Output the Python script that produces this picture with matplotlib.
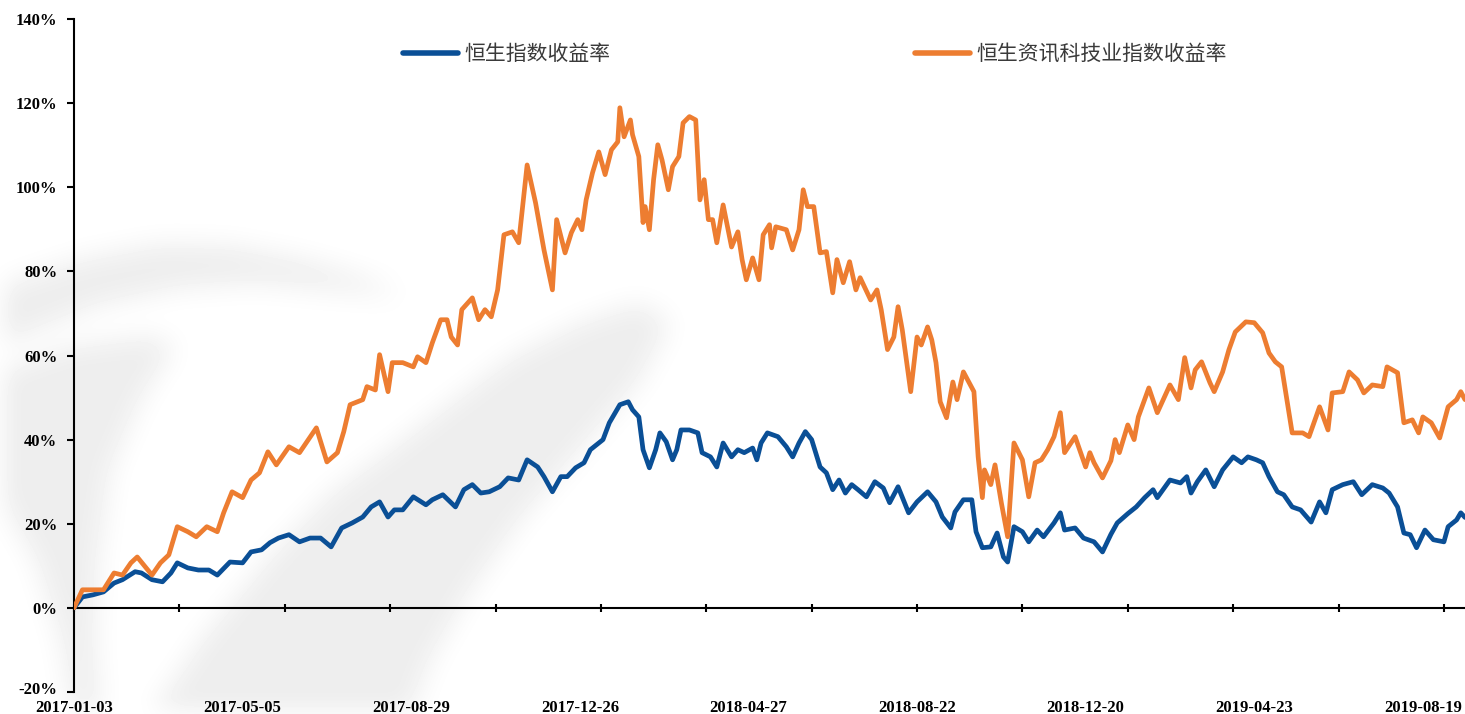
import numpy as np
import matplotlib.pyplot as plt
import matplotlib.transforms as mtransforms
from matplotlib.path import Path

# trading-day index (0 = 2017-01-03) and cumulative return in %
hsi_day = [0, 4, 9, 14, 19, 23, 29, 32, 37, 42, 46, 49, 54, 59, 64, 68, 74, 80, 84, 89,
           93, 97, 102, 107, 112, 117, 122, 127, 132, 137, 141, 145, 149, 152, 156, 161, 167, 170, 175, 181,
           185, 189, 193, 197, 202, 206, 211, 215, 220, 223, 227, 231, 234, 238, 242, 245, 251, 254, 259, 263,
           265, 268, 270, 273, 276, 278, 281, 284, 286, 288, 292, 296, 298, 302, 305, 308, 312, 315, 318, 322,
           324, 326, 329, 334, 338, 341, 344, 347, 350, 354, 357, 360, 363, 366, 369, 372, 376, 380, 384, 387,
           391, 396, 400, 405, 409, 412, 416, 418, 422, 426, 428, 431, 435, 438, 441, 443, 446, 450, 453, 457,
           460, 465, 468, 470, 475, 479, 484, 488, 492, 495, 500, 504, 508, 512, 514, 520, 525, 528, 530, 533,
           537, 541, 545, 550, 554, 557, 561, 564, 567, 571, 574, 578, 582, 587, 591, 594, 597, 602, 607, 611,
           616, 621, 624, 628, 631, 634, 637, 641, 645, 650, 652, 656, 658, 660]
hsi_ret = [0, 2.6, 3.1, 3.8, 5.9, 6.7, 8.6, 8.3, 6.7, 6.2, 8.3, 10.7, 9.5, 9.0, 9.0, 7.8, 10.9, 10.7, 13.3, 13.8,
           15.5, 16.6, 17.4, 15.7, 16.6, 16.6, 14.5, 19.0, 20.2, 21.6, 24.0, 25.2, 21.6, 23.3, 23.3, 26.4, 24.5, 25.7, 26.9, 24.0,
           28.1, 29.3, 27.3, 27.6, 28.8, 30.9, 30.4, 35.2, 33.5, 31.2, 27.6, 31.2, 31.2, 33.3, 34.5, 37.6, 40.0, 44.0, 48.3, 49.0,
           47.1, 45.4, 37.6, 33.3, 37.6, 41.6, 39.5, 35.2, 37.6, 42.3, 42.3, 41.6, 36.9, 35.9, 33.5, 39.2, 35.9, 37.6, 36.9, 38.0,
           35.2, 39.2, 41.6, 40.7, 38.3, 35.9, 39.2, 41.9, 40.0, 33.5, 32.1, 28.1, 30.4, 27.3, 29.3, 28.1, 26.4, 30.0, 28.5, 25.0,
           28.8, 22.6, 25.2, 27.6, 25.2, 21.6, 19.0, 22.8, 25.7, 25.7, 18.1, 14.3, 14.5, 17.8, 12.1, 10.9, 19.3, 18.1, 15.7, 18.5,
           16.9, 20.2, 22.6, 18.5, 19.0, 16.6, 15.7, 13.3, 17.5, 20.2, 22.4, 24.0, 26.2, 28.1, 26.2, 30.4, 29.7, 31.2, 27.3, 30.0,
           32.8, 28.8, 32.8, 35.9, 34.5, 35.9, 35.2, 34.5, 31.2, 27.6, 26.9, 24.0, 23.3, 20.4, 25.2, 22.6, 28.1, 29.3, 30.0, 26.9,
           29.3, 28.5, 27.3, 24.0, 17.8, 17.4, 14.3, 18.5, 16.2, 15.7, 19.3, 20.9, 22.6, 21.5]

tech_day = [0, 4, 8, 14, 19, 23, 27, 30, 37, 41, 45, 49, 54, 58, 63, 68, 71, 75, 80, 84,
            88, 92, 96, 102, 107, 115, 120, 125, 128, 131, 137, 139, 143, 145, 149, 151, 156, 161, 163, 167,
            170, 174, 177, 179, 182, 184, 189, 192, 195, 198, 201, 204, 208, 211, 215, 219, 223, 227, 229, 233,
            236, 239, 241, 243, 246, 249, 252, 255, 258, 259, 261, 264, 265, 268, 270, 271, 273, 275, 277, 279,
            282, 284, 287, 289, 292, 295, 297, 299, 301, 303, 305, 308, 312, 315, 317, 319, 322, 325, 327, 330,
            331, 333, 338, 341, 344, 346, 348, 351, 354, 357, 360, 362, 365, 368, 371, 373, 378, 381, 383, 386,
            389, 391, 393, 397, 400, 402, 405, 407, 409, 411, 414, 417, 419, 422, 427, 429, 431, 432, 435, 437,
            440, 443, 446, 450, 453, 456, 459, 462, 465, 468, 470, 475, 480, 482, 484, 488, 492, 494, 496, 500,
            503, 505, 510, 514, 520, 524, 527, 530, 532, 535, 539, 541, 545, 548, 551, 556, 560, 564, 567, 570,
            573, 576, 578, 583, 586, 591, 595, 597, 602, 605, 609, 612, 616, 621, 623, 628, 631, 635, 638, 640,
            644, 648, 652, 656, 658, 660]
tech_ret = [0, 4.3, 4.3, 4.3, 8.3, 7.8, 10.7, 12.1, 7.8, 10.7, 12.6, 19.3, 18.1, 16.9, 19.3, 18.1, 22.6, 27.6, 26.2, 30.4,
            32.1, 37.1, 34.0, 38.3, 36.9, 42.8, 34.7, 36.9, 41.9, 48.3, 49.5, 52.6, 51.8, 60.2, 51.4, 58.3, 58.3, 57.3, 59.7, 58.3,
            63.0, 68.5, 68.5, 64.4, 62.5, 70.9, 73.7, 68.5, 70.9, 69.2, 75.6, 88.7, 89.4, 86.8, 105.3, 96.3, 85.1, 75.6, 92.3, 84.4,
            89.2, 92.3, 89.9, 97.0, 103.4, 108.4, 103.0, 108.9, 110.8, 118.9, 112.0, 116.0, 112.5, 107.3, 91.6, 95.4, 89.9, 101.8, 110.1, 106.5,
            99.4, 104.9, 107.3, 115.3, 116.8, 116.0, 97.0, 101.8, 92.3, 92.3, 86.8, 95.8, 85.8, 89.4, 82.8, 78.0, 83.2, 78.0, 88.7, 91.1,
            85.6, 90.6, 89.9, 85.1, 89.9, 99.4, 95.4, 95.4, 84.4, 84.7, 74.9, 82.8, 77.3, 82.3, 75.6, 78.5, 73.2, 75.6, 70.9, 61.4,
            64.4, 71.6, 66.1, 51.4, 64.4, 62.5, 66.8, 63.7, 58.3, 49.0, 45.2, 53.7, 49.5, 56.1, 51.4, 35.9, 26.2, 32.8, 29.3, 34.0,
            25.0, 16.9, 39.2, 35.2, 26.4, 34.5, 35.2, 37.6, 40.7, 46.4, 36.9, 40.7, 33.5, 36.9, 34.5, 30.9, 35.0, 40.0, 36.9, 43.5,
            40.0, 45.4, 52.3, 46.4, 53.0, 49.5, 59.5, 52.3, 56.6, 58.5, 53.5, 51.4, 56.1, 61.4, 65.6, 68.0, 67.8, 65.4, 60.6, 58.5,
            57.3, 47.8, 41.6, 41.6, 40.7, 47.8, 42.3, 51.1, 51.4, 56.1, 54.2, 51.1, 53.0, 52.6, 57.3, 55.9, 44.0, 44.7, 41.6, 45.4,
            44.0, 40.4, 47.8, 49.5, 51.4, 49.5]

label_day = [0, 80, 160, 240, 320, 400, 480, 560, 640]
label_txt = ['2017-01-03', '2017-05-05', '2017-08-29', '2017-12-26', '2018-04-27',
             '2018-08-22', '2018-12-20', '2019-04-23', '2019-08-19']
names = ['恒生指数收益率', '恒生资讯科技业指数收益率']

W, H = 1465, 714
fig = plt.figure(figsize=(W / 100, H / 100), dpi=100)

# faint watermark swoosh in the background (pixel outlines, y measured from the top)
swoosh = [
    [(0, 285), (80, 258), (160, 243), (230, 245), (300, 258), (360, 275), (405, 295),
     (330, 290), (255, 283), (180, 288), (100, 305), (0, 345)],
    [(0, 370), (70, 345), (150, 335), (175, 345), (140, 400), (110, 470), (98, 560),
     (95, 640), (100, 714), (72, 714), (60, 640), (35, 560), (0, 500)],
    [(150, 714), (200, 640), (270, 555), (330, 492), (385, 452), (450, 402), (510, 357),
     (580, 322), (640, 302), (670, 322), (640, 380), (580, 450), (520, 520), (470, 590),
     (430, 660), (410, 714)],
]
yy, xx = np.mgrid[0:H, 0:W]
pts = np.c_[xx.ravel(), yy.ravel()]
mask = np.zeros(H * W)
for poly in swoosh:
    mask = np.maximum(mask, Path(poly).contains_points(pts))
mask = mask.reshape(H, W)
k = np.ones(31) / 31
for _ in range(2):
    mask = np.apply_along_axis(lambda r: np.convolve(r, k, mode='same'), 1, mask)
    mask = np.apply_along_axis(lambda c: np.convolve(c, k, mode='same'), 0, mask)
bg = fig.add_axes([0, 0, 1, 1], zorder=0)
bg.imshow(1 - 0.07 * mask, cmap='gray', vmin=0, vmax=1, aspect='auto', interpolation='bilinear')
bg.axis('off')

ax = fig.add_axes([74 / W, 22 / H, 1391 / W, 673 / H], zorder=1)
ax.patch.set_alpha(0)

ax.plot(hsi_day, hsi_ret, color='#0a4f96', lw=3.4, label=names[0], solid_capstyle='round', zorder=3)
ax.plot(tech_day, tech_ret, color='#ed7d31', lw=3.4, label=names[1], solid_capstyle='round', zorder=4)

ax.set_xlim(0, 660)
ax.set_ylim(-20, 140)

for s in ['top', 'right', 'bottom']:
    ax.spines[s].set_visible(False)
ax.spines['left'].set_linewidth(1.5)

ax.set_yticks(np.arange(-20, 141, 20))
ax.set_yticklabels([f'{v}%' for v in range(-20, 141, 20)],
                   fontfamily='Liberation Serif', fontweight='bold', fontsize=12)
ax.tick_params(axis='y', direction='out', length=5, width=1.5, pad=7)
# nudge the lowest label up a little so it clears the first date
low = ax.get_yticklabels()[0]
low.set_transform(low.get_transform() + mtransforms.ScaledTranslation(0, 4 / 100, fig.dpi_scale_trans))

ax.set_xticks(label_day)
ax.set_xticklabels(label_txt, fontfamily='Liberation Serif', fontweight='bold', fontsize=12)
ax.tick_params(axis='x', length=0, pad=6)

# zero line with its own tick marks
zero = ax.secondary_xaxis(20 / 160)
zero.spines['bottom'].set_linewidth(1.5)
zero.set_xticks(np.arange(0, 661, 50))
zero.set_xticklabels([])
zero.tick_params(direction='inout', length=6, width=1.5)

leg = ax.legend(loc='upper left', bbox_to_anchor=(403 / W, 1 - 43 / H), bbox_transform=fig.transFigure,
                ncol=2, frameon=False, borderpad=0, borderaxespad=0, handlelength=2.65,
                handletextpad=0.3, columnspacing=14.6,
                prop={'family': ['Noto Sans CJK SC', 'DejaVu Sans'], 'size': 15})
for t in leg.get_texts():
    t.set_color('#3a3a3a')
for h in leg.legend_handles:
    h.set_linewidth(4)

fig.savefig('out.png', dpi=100)
